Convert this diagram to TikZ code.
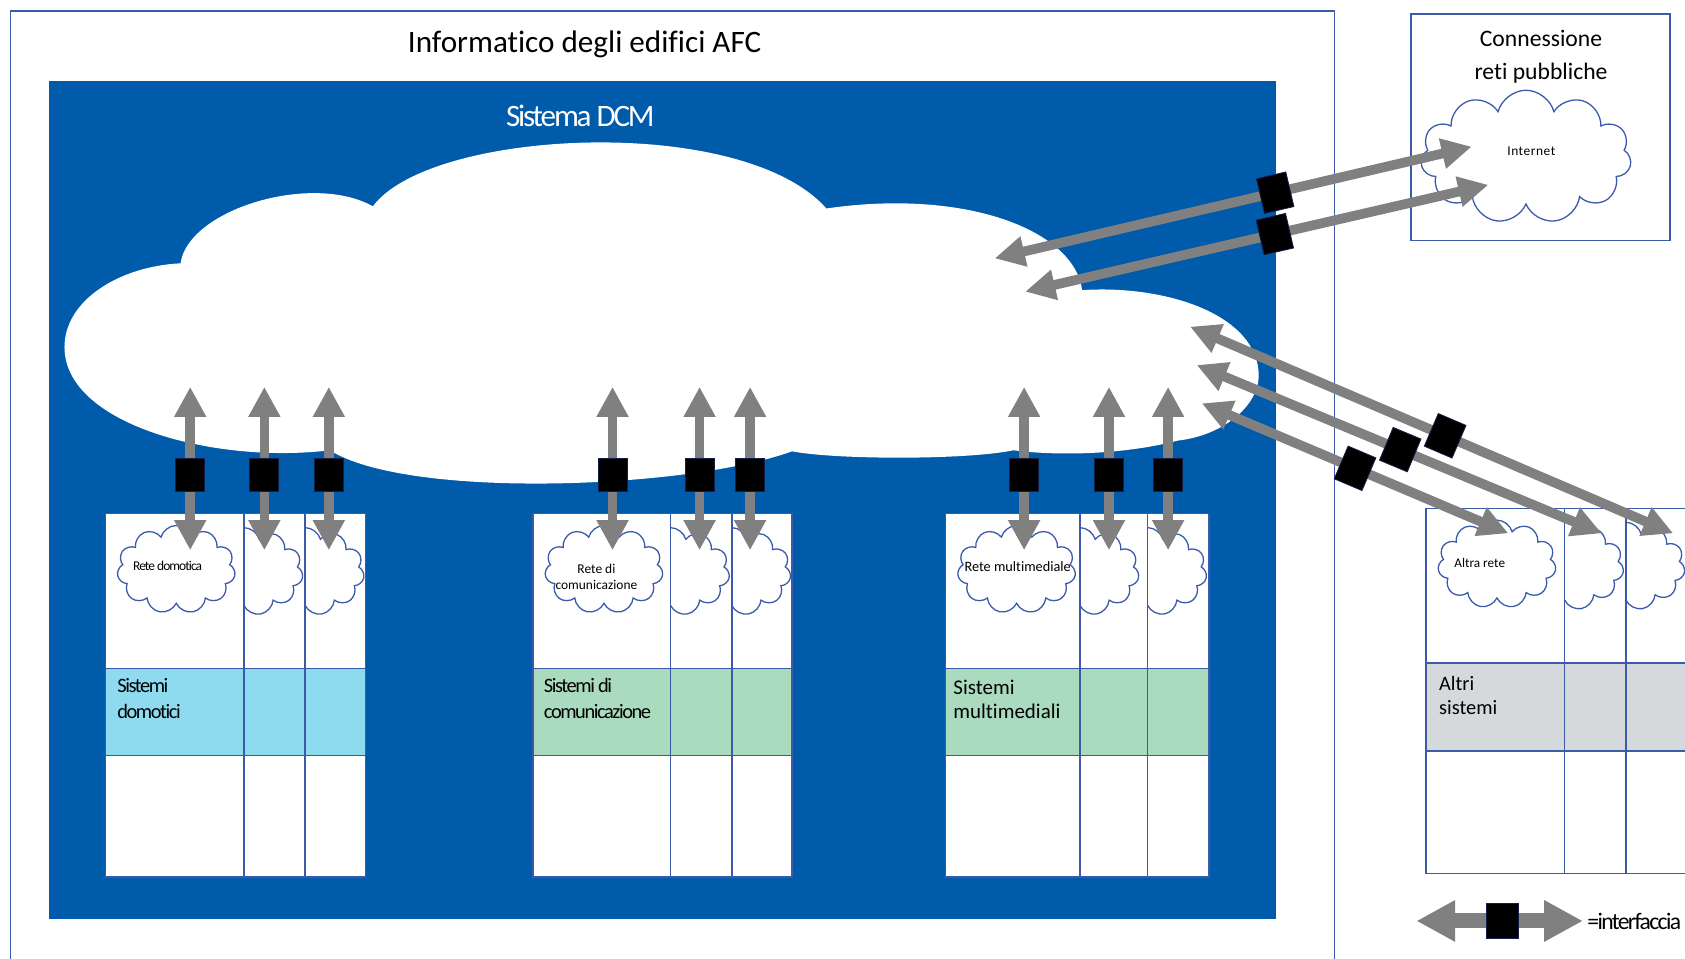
\documentclass[tikz,border=0pt]{standalone}
\usepackage{fontspec}
\setmainfont{Carlito}[Ligatures=NoCommon]
\newfontfamily\tightfont[LetterSpace=-7,Ligatures=NoCommon]{Carlito}
\newfontfamily\wideFont[LetterSpace=4,Ligatures=NoCommon]{Carlito}
\usetikzlibrary{arrows.meta,shapes.symbols,calc}
\definecolor{dcmblue}{RGB}{0,91,170}
\definecolor{lineblue}{RGB}{60,90,170}
\definecolor{arrowgray}{RGB}{128,128,128}
\definecolor{bandblue}{RGB}{142,219,240}
\definecolor{bandgreen}{RGB}{170,219,190}
\definecolor{bandgray}{RGB}{213,217,219}
\definecolor{ifaceedge}{RGB}{20,30,70}
\tikzset{
  frame/.style={draw=lineblue, line width=1.4pt},
  colgrid/.style={draw=lineblue, line width=1.4pt},
  smallcloud/.style={cloud, cloud puffs=11, cloud ignores aspect, minimum width=110pt, minimum height=82pt, draw=lineblue, line width=1.2pt, fill=white, inner sep=0pt},
  vdbl/.style={draw=arrowgray, line width=9pt, arrows={Triangle[length=28pt,width=28pt]-Triangle[length=28pt,width=28pt]}},
  ddbl/.style={draw=arrowgray, line width=9pt, arrows={Triangle[length=28pt,width=27pt]-Triangle[length=28pt,width=27pt]}},
  ldbl/.style={draw=arrowgray, line width=14pt, arrows={Triangle[length=36pt,width=36pt]-Triangle[length=36pt,width=36pt]}},
  iface/.style={rectangle, fill=black, draw=ifaceedge, line width=0.8pt, minimum width=27pt, minimum height=31pt, inner sep=0pt},
  diface/.style={iface, minimum width=28pt, minimum height=33pt},
  lbl/.style={inner sep=0pt, text=black}
}
\begin{document}
\begin{tikzpicture}[x=1pt,y=-1pt]
\useasboundingbox (0,0) rectangle (1568,892);
\clip (0,0) rectangle (1568,892);
\fill[white] (0,0) rectangle (1568,892);

% outer frame
\draw[frame] (10,900) -- (10,10) -- (1242,10) -- (1242,900);
\node[lbl, font=\fontsize{29}{35}\selectfont] (title) at (544,41) {Informatico degli edifici AFC};

% public networks
\draw[frame] (1313,13) rectangle (1554,224);
\node[lbl, align=center, font=\fontsize{22}{31}\selectfont] (conn) at (1434,53) {Connessione\\reti pubbliche};
\node[smallcloud, minimum width=196pt, minimum height=124pt] (inet) at (1420,146) {};
\node[lbl, font=\wideFont\fontsize{12.5}{15}\selectfont] (inetlbl) at (1425,141) {Internet};

% DCM system
\fill[dcmblue] (46,75) rectangle (1187,855);
\node[lbl, text=white, font=\tightfont\fontsize{29}{35}\selectfont] (dcm) at (540,108) {Sistema DCM};
\fill[white] (60,323)
  .. controls (60,280) and (110,248) .. (168,245)
  .. controls (175,195) and (290,160) .. (347,192)
  .. controls (400,120) and (690,105) .. (769,194)
  .. controls (900,175) and (1000,215) .. (1007,270)
  .. controls (1080,265) and (1165,290) .. (1171,344)
  .. controls (1175,375) and (1140,405) .. (1096,410)
  .. controls (1050,422) and (990,425) .. (943,419)
  .. controls (900,428) and (780,428) .. (737,420)
  .. controls (640,455) and (380,465) .. (307,419)
  .. controls (200,432) and (60,395) .. (60,323) -- cycle;

% column groups
\foreach \xa/\xb/\da/\db/\yt/\yb/\ba/\bb/\bc/\nm in {
  98/340/227/284/478/816/622/703/bandblue/ga,
  496/737/624/681/478/816/622/703/bandgreen/gb,
  880/1125/1005/1068/478/816/622/703/bandgreen/gc,
  1327/1600/1456/1513/473/813/617/699/bandgray/gd}{
  \fill[white] (\xa,\yt) rectangle (\xb,\yb);
  \fill[\bc] (\xa,\ba) rectangle (\xb,\bb);
  \node[smallcloud] (\nm-main) at (\xa+66,\yt+52) {};
  \begin{scope}
    \clip (\da,\yt) rectangle (\db,\yb);
    \node[smallcloud] (\nm-b) at (\da,\yt+54) {};
  \end{scope}
  \begin{scope}
    \clip (\db,\yt) rectangle (\xb,\yb);
    \node[smallcloud] (\nm-c) at (\db,\yt+54) {};
  \end{scope}
  \draw[colgrid] (\xa,\yt) rectangle (\xb,\yb)
     (\da,\yt) -- (\da,\yb) (\db,\yt) -- (\db,\yb)
     (\xa,\ba) -- (\xb,\ba) (\xa,\bb) -- (\xb,\bb);
}

% cloud labels
\node[lbl, font=\tightfont\fontsize{12.5}{14}\selectfont] (ra) at (156,527) {Rete domotica};
\node[lbl, align=center, font=\fontsize{12.5}{14.5}\selectfont] (rb) at (555,537) {Rete di\\comunicazione};
\node[lbl, font=\fontsize{13.3}{15}\selectfont] (rc) at (947,527) {Rete multimediale};
\node[lbl, font=\fontsize{12.3}{14}\selectfont] (rd) at (1377,524) {Altra rete};

% band labels
\node[lbl, anchor=west, align=left, font=\tightfont\fontsize{19}{24}\selectfont] (sa) at (109,650) {Sistemi\\domotici};
\node[lbl, anchor=west, align=left, font=\tightfont\fontsize{19}{24}\selectfont] (sb) at (506,650) {Sistemi di\\comunicazione};
\node[lbl, anchor=west, align=left, font=\fontsize{19.5}{22.5}\selectfont] (sc) at (887,651) {Sistemi\\multimediali};
\node[lbl, anchor=west, align=left, font=\fontsize{19}{22}\selectfont] (sd) at (1339,647) {Altri\\sistemi};

% vertical interfaces
\foreach \x [count=\i] in {177,246,306,570,651,698,953,1032,1087}{
  \coordinate (vt\i) at (\x,360);
  \coordinate (vb\i) at (\x,512);
  \draw[vdbl] (vt\i) -- (vb\i);
  \node[iface] (vs\i) at (\x,442) {};
}

% interfaces to internet
\coordinate (aA1) at (925.6,240.4);
\coordinate (aA2) at (1369.5,136.5);
\coordinate (aB1) at (954,271.4);
\coordinate (aB2) at (1385,172);
\draw[ddbl] (aA1) -- (aA2);
\draw[ddbl] (aB1) -- (aB2);
\node[diface, rotate=13.2] (sqA) at ($(aA1)!0.588!(aA2)$) {};
\node[diface, rotate=13.0] (sqB) at ($(aB1)!0.539!(aB2)$) {};

% interfaces to other networks
\coordinate (aC1) at (1107.4,304);
\coordinate (aC2) at (1557,496.3);
\coordinate (aD1) at (1113.6,339.7);
\coordinate (aD2) at (1490.5,496.3);
\coordinate (aE1) at (1118.3,375.3);
\coordinate (aE2) at (1403.6,496.3);
\draw[ddbl] (aC1) -- (aC2);
\draw[ddbl] (aD1) -- (aD2);
\draw[ddbl] (aE1) -- (aE2);
\node[diface, rotate=-23.2] (sqC) at ($(aC1)!0.528!(aC2)$) {};
\node[diface, rotate=-22.6] (sqD) at ($(aD1)!0.5025!(aD2)$) {};
\node[diface, rotate=-23.0] (sqE) at ($(aE1)!0.5!(aE2)$) {};

% legend
\coordinate (lg1) at (1318,857);
\coordinate (lg2) at (1473,857);
\draw[ldbl] (lg1) -- (lg2);
\node[iface, minimum width=30pt, minimum height=33pt] (lgsq) at (1398,857) {};
\node[lbl, anchor=west, font=\tightfont\fontsize{22}{26}\selectfont] (lgtxt) at (1477,857) {=interfaccia};
\end{tikzpicture}
\end{document}
